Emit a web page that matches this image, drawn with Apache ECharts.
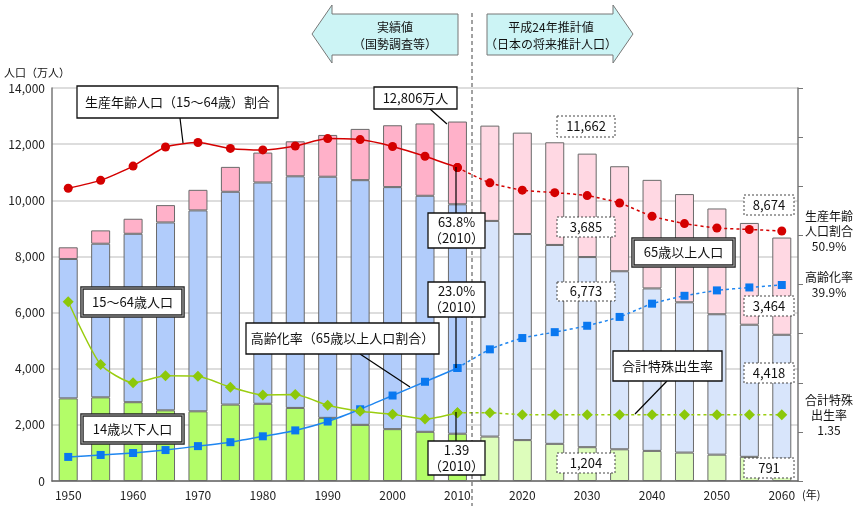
<!DOCTYPE html>
<html><head><meta charset="utf-8">
<script src="https://cdn.jsdelivr.net/npm/echarts@6/dist/echarts.min.js"></script>
<style>html,body{margin:0;padding:0;background:#fff}#c{width:863px;height:511px}</style>
</head><body><div id="c"></div>
<script>
const years = ['1950','1955','1960','1965','1970','1975','1980','1985','1990','1995','2000','2005','2010','2015','2020','2025','2030','2035','2040','2045','2050','2055','2060'];
const pop0_14 = [2943,2980,2807,2517,2482,2722,2751,2603,2249,2001,1847,1752,1684,1583,1457,1324,1204,1129,1073,1012,939,861,791];
const pop15_64 = [4966,5473,6000,6693,7157,7581,7883,8251,8590,8716,8622,8409,8173,7682,7341,7085,6773,6343,5787,5353,5001,4706,4418];
const pop65 = [416,475,535,618,733,887,1065,1247,1489,1826,2204,2576,2948,3395,3612,3657,3685,3741,3868,3856,3768,3626,3464];
const workingRatio = [59.6,61.2,64.1,68.0,68.9,67.7,67.4,68.2,69.7,69.5,68.1,66.1,63.8,60.7,59.2,58.7,58.1,56.6,53.9,52.4,51.5,51.2,50.9];
const agingRate = [4.9,5.3,5.7,6.3,7.1,7.9,9.1,10.3,12.1,14.6,17.4,20.2,23.0,26.8,29.1,30.3,31.6,33.4,36.1,37.7,38.8,39.4,39.9];
const tfr = [3.65,2.37,2.00,2.14,2.13,1.91,1.75,1.76,1.54,1.42,1.36,1.26,1.39,1.39,1.35,1.35,1.35,1.35,1.35,1.35,1.35,1.35,1.35];
const lastActual = 12; // index of 2010

const FONT = '"Noto Sans CJK JP", "Noto Sans", sans-serif';
const chart = echarts.init(document.getElementById('c'));

function barData(arr, cA, cP){
  return arr.map((v,i)=>({value:v, itemStyle:{color: i<=lastActual ? cA : cP}}));
}
function actualPart(arr){ return arr.map((v,i)=> i<=lastActual ? v : null); }
function projPart(arr){ return arr.map((v,i)=> i>=lastActual ? v : null); }

const g = [];
function box(x,y,w,h,text,kind,fs){
  fs = fs || 13;
  if(kind==='double'){
    g.push({type:'rect', z:100, shape:{x:x,y:y,width:w,height:h}, style:{fill:'#fff', stroke:'#222', lineWidth:3.5}});
    g.push({type:'rect', z:101, shape:{x:x,y:y,width:w,height:h}, style:{fill:'none', stroke:'#aaa', lineWidth:1.2}});
  } else if(kind==='dash'){
    g.push({type:'rect', z:100, shape:{x:x,y:y,width:w,height:h}, style:{fill:'#fff', stroke:'#444', lineWidth:1, lineDash:[2,2]}});
  } else {
    g.push({type:'rect', z:100, shape:{x:x,y:y,width:w,height:h}, style:{fill:'#fff', stroke:'#111', lineWidth:1.3}});
  }
  g.push({type:'text', z:102, style:{text:text, x:x+w/2, y:y+h/2, font:fs+'px '+FONT, fill:'#111',
    textAlign:'center', textVerticalAlign:'middle', align:'center', verticalAlign:'middle', lineHeight:16}});
}
function leader(x1,y1,x2,y2){
  g.push({type:'line', z:99, shape:{x1:x1,y1:y1,x2:x2,y2:y2}, style:{stroke:'#000', lineWidth:1.2}});
}
function txt(x,y,text,align,fs){
  g.push({type:'text', z:102, style:{text:text, x:x, y:y, font:(fs||12)+'px '+FONT, fill:'#111',
    textAlign:align||'center', textVerticalAlign:'middle', align:align||'center', verticalAlign:'middle', lineHeight:15}});
}

// arrows
g.push({type:'polygon', z:90, shape:{points:[[312,34],[332,5],[332,14],[458,14],[458,55],[332,55],[332,63]]},
  style:{fill:'#ccf4f5', stroke:'#777', lineWidth:1}});
g.push({type:'polygon', z:90, shape:{points:[[633,34],[613,5],[613,14],[487,14],[487,55],[613,55],[613,63]]},
  style:{fill:'#ccf4f5', stroke:'#777', lineWidth:1}});
txt(395,27,'実績値','center',12);
txt(395,44,'（国勢調査等）','center',12);
txt(551,27,'平成24年推計値','center',12);
txt(551,44,'（日本の将来推計人口）','center',12);
// divider
g.push({type:'line', z:95, shape:{x1:472,y1:13,x2:472,y2:506}, style:{stroke:'#444', lineWidth:1, lineDash:[4,3]}});

txt(4,73,'人口（万人）','left',11);
txt(802,495,'(年)','left',11);

leader(180,118,183,143);
box(77,86,201,32,'生産年齢人口（15～64歳）割合','plain');
leader(430,109,447,124);
box(374,87,83,22,'12,806万人','plain');
box(557,116,58,21,'11,662','dash');
leader(456,167,456,213);
box(428,213,57,35,'63.8%\n（2010）','plain');
box(557,217,58,20,'3,685','dash');
box(633,239,101,27,'65歳以上人口','double');
box(82,288,101,28,'15～64歳人口','double');
leader(360,354,410,387);
box(246,323,193,31,'高齢化率（65歳以上人口割合）','plain');
box(82,415,101,28,'14歳以下人口','double');
leader(456,317,456,368);
box(428,282,57,35,'23.0%\n（2010）','plain');
leader(456,412,456,441);
box(428,441,57,34,'1.39\n（2010）','plain');
box(557,282,58,19,'6,773','dash');
box(557,453,58,20,'1,204','dash');
leader(667,381,635,414);
box(613,351,109,30,'合計特殊出生率','plain');
box(744,195,50,20,'8,674','dash');
box(744,296,50,20,'3,464','dash');
box(744,363,50,20,'4,418','dash');
box(744,458,50,20,'791','dash');
txt(829,231,'生産年齢\n人口割合\n50.9%','center',12);
txt(829,285,'高齢化率\n39.9%','center',12);
txt(829,415,'合計特殊\n出生率\n1.35','center',12);

const barCommon = {type:'bar', stack:'pop', barWidth:19, yAxisIndex:0, z:2,
  itemStyle:{borderColor:'#6a6a6a', borderWidth:1}};
const lineCommon = {type:'line', smooth:0.2, connectNulls:false, z:5};

const option = {
  animation:false,
  textStyle:{fontFamily:FONT},
  grid:{left:52, right:65, top:88, bottom:30},
  xAxis:{type:'category', data:years, boundaryGap:true,
    axisLine:{lineStyle:{color:'#666', width:1.5}}, axisTick:{show:false},
    axisLabel:{interval:(i,v)=>Number(v)%10===0, color:'#222', fontSize:12, margin:8, fontFamily:FONT}},
  yAxis:[
    {type:'value', min:0, max:14000, interval:2000,
      axisLine:{show:true, lineStyle:{color:'#777', width:1.5}}, axisTick:{show:false},
      axisLabel:{color:'#222', fontSize:12, margin:7, fontFamily:FONT, formatter:v=>v.toLocaleString('en-US')},
      splitLine:{lineStyle:{color:'#d2d2d2', width:1.5}}},
    {type:'value', min:0, max:80, interval:10, position:'right',
      axisLine:{show:true, lineStyle:{color:'#777', width:1.5}}, axisTick:{show:true, inside:false, length:5, lineStyle:{color:'#777'}},
      axisLabel:{show:false}, splitLine:{show:false}},
    {type:'value', min:0, max:8, interval:1, position:'right', show:false}
  ],
  series:[
    Object.assign({}, barCommon, {name:'14歳以下人口', data:barData(pop0_14,'#b3fd68','#ddfdbb')}),
    Object.assign({}, barCommon, {name:'15～64歳人口', data:barData(pop15_64,'#b1ccfb','#d8e5fb')}),
    Object.assign({}, barCommon, {name:'65歳以上人口', data:barData(pop65,'#ffb1c9','#ffd8e3')}),
    Object.assign({}, lineCommon, {name:'生産年齢人口割合', yAxisIndex:1, data:actualPart(workingRatio),
      symbol:'circle', symbolSize:9, itemStyle:{color:'#d40000'}, lineStyle:{color:'#d40000', width:1.5}}),
    Object.assign({}, lineCommon, {name:'生産年齢人口割合(推計)', yAxisIndex:1, data:projPart(workingRatio),
      symbol:'circle', symbolSize:9, itemStyle:{color:'#d40000'}, lineStyle:{color:'#d40000', width:1.5, type:[3,3]}}),
    Object.assign({}, lineCommon, {name:'高齢化率', yAxisIndex:1, data:actualPart(agingRate),
      symbol:'rect', symbolSize:8, itemStyle:{color:'#0a78f0'}, lineStyle:{color:'#1f86f0', width:1.5}}),
    Object.assign({}, lineCommon, {name:'高齢化率(推計)', yAxisIndex:1, data:projPart(agingRate),
      symbol:'rect', symbolSize:8, itemStyle:{color:'#0a78f0'}, lineStyle:{color:'#1f86f0', width:1.5, type:[3,3]}}),
    Object.assign({}, lineCommon, {name:'合計特殊出生率', yAxisIndex:2, data:actualPart(tfr),
      symbol:'diamond', symbolSize:11, itemStyle:{color:'#8cc80a'}, lineStyle:{color:'#9acd10', width:1.5}}),
    Object.assign({}, lineCommon, {name:'合計特殊出生率(推計)', yAxisIndex:2, data:projPart(tfr),
      symbol:'diamond', symbolSize:11, itemStyle:{color:'#8cc80a'}, lineStyle:{color:'#9acd10', width:1.5, type:[3,3]}})
  ],
  graphic:{elements:g}
};
chart.setOption(option);
</script></body></html>
